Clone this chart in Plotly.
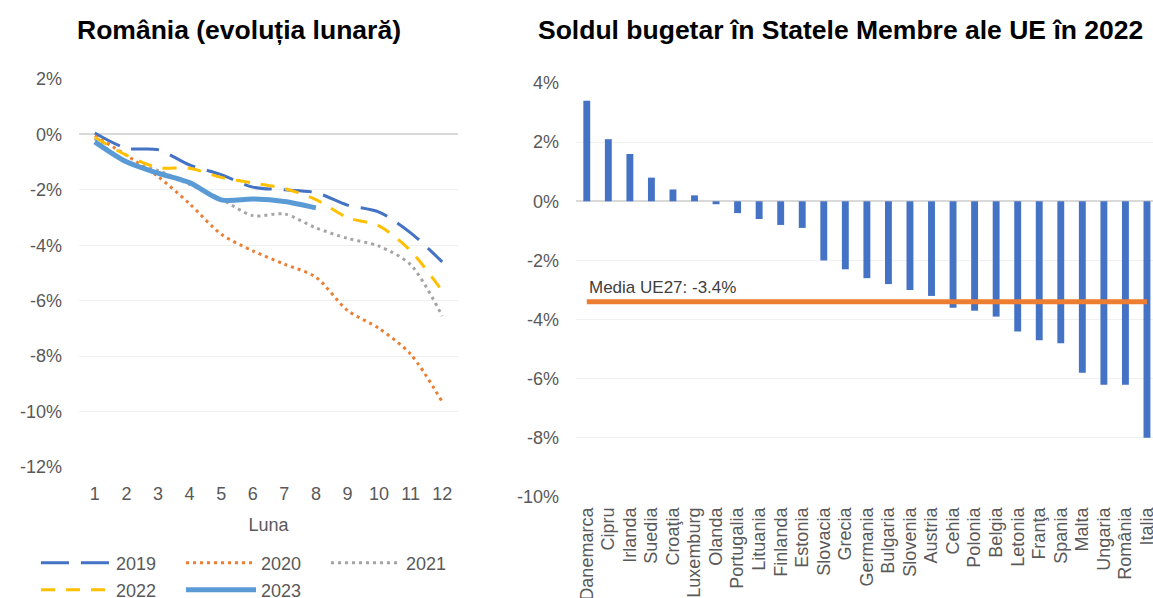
import plotly.graph_objects as go

# ---------------- data ----------------
months = list(range(1, 13))
y2019 = [0.05, -0.5, -0.55, -1.1, -1.45, -1.9, -2.0, -2.1, -2.55, -2.8, -3.55, -4.6]
y2020 = [-0.05, -0.75, -1.52, -2.5, -3.6, -4.2, -4.68, -5.15, -6.35, -7.0, -7.93, -9.65]
y2021 = [-0.15, -1.0, -1.3, -1.8, -2.33, -2.93, -2.87, -3.37, -3.75, -4.03, -4.7, -6.55]
y2022 = [-0.1, -0.75, -1.2, -1.22, -1.55, -1.75, -1.95, -2.35, -3.0, -3.3, -4.2, -5.65]
y2023 = [-0.27, -0.99, -1.4, -1.74, -2.36, -2.33, -2.42, -2.65]

left_yticks = [2, 0, -2, -4, -6, -8, -10, -12]
left_yticklabels = ["2%", "0%", "-2%", "-4%", "-6%", "-8%", "-10%", "-12%"]

countries = ["Danemarca", "Cipru", "Irlanda", "Suedia", "Croaţia", "Luxemburg", "Olanda",
             "Portugalia", "Lituania", "Finlanda", "Estonia", "Slovacia", "Grecia", "Germania",
             "Bulgaria", "Slovenia", "Austria", "Cehia", "Polonia", "Belgia", "Letonia", "Franţa",
             "Spania", "Malta", "Ungaria", "România", "Italia"]
balance = [3.4, 2.1, 1.6, 0.8, 0.4, 0.2, -0.1, -0.4, -0.6, -0.8, -0.9, -2.0, -2.3, -2.6,
           -2.8, -3.0, -3.2, -3.6, -3.7, -3.9, -4.4, -4.7, -4.8, -5.8, -6.2, -6.2, -8.0]
eu_avg = -3.4
right_yticks = [4, 2, 0, -2, -4, -6, -8, -10]
right_yticklabels = ["4%", "2%", "0%", "-2%", "-4%", "-6%", "-8%", "-10%"]

# ---------------- style ----------------
FONT = "Liberation Sans, Arial, sans-serif"
GRAY_TXT = "#595959"
W, H = 1153, 598

fig = go.Figure()

series = [
    ("2019", y2019, "#4472C4", "28px,12px", 3, "legend"),
    ("2020", y2020, "#ED7D31", "3px,4px", 3, "legend"),
    ("2021", y2021, "#A5A5A5", "3px,4px", 3, "legend"),
    ("2022", y2022, "#FFC000", "14px,11px", 3, "legend2"),
    ("2023", y2023, "#5B9BD5", "solid", 5, "legend2"),
]
for name, ys, col, dash, w, lg in series:
    fig.add_trace(go.Scatter(
        x=months[:len(ys)], y=ys, name=name, mode="lines",
        line=dict(color=col, width=w, dash=dash, shape="spline", smoothing=0.8),
        xaxis="x", yaxis="y", legend=lg, hoverinfo="skip"))

fig.add_trace(go.Bar(x=countries, y=balance, marker=dict(color="#4472C4", line=dict(width=0)),
                     xaxis="x2", yaxis="y2", showlegend=False))
fig.add_trace(go.Scatter(x=[countries[0], countries[-1]], y=[eu_avg, eu_avg], mode="lines",
                         line=dict(color="#ED7D31", width=5), xaxis="x2", yaxis="y2",
                         showlegend=False))

def px_x(p):
    return p / W

def px_y(p):
    return (H - p) / H

axis_common = dict(showline=False, ticks="", automargin=False,
                   tickfont=dict(family=FONT, size=18, color=GRAY_TXT))

fig.update_layout(
    width=W, height=H,
    margin=dict(l=0, r=0, t=0, b=0, autoexpand=False),
    paper_bgcolor="white", plot_bgcolor="white",
    font=dict(family=FONT, size=18, color=GRAY_TXT),
    bargap=0.68,
    xaxis=dict(domain=[px_x(79), px_x(458)], range=[0.5, 12.5], tickmode="array",
               tickvals=months, ticktext=[str(m) for m in months], showgrid=False,
               zeroline=False, ticklabelstandoff=14, anchor="y",
               title=dict(text="Luna", font=dict(family=FONT, size=18, color=GRAY_TXT), standoff=15),
               **axis_common),
    yaxis=dict(domain=[px_y(467), px_y(79)], range=[-12, 2], tickmode="array",
               tickvals=left_yticks, ticktext=left_yticklabels, showgrid=True,
               gridcolor="#F0F0F0", gridwidth=1, anchor="x", ticklabelstandoff=16,
               zeroline=True, zerolinecolor="#D9D9D9", zerolinewidth=2,
               **axis_common),
    xaxis2=dict(domain=[px_x(576), 1.0], range=[-0.5, 26.28], type="category",
                tickmode="array", tickvals=countries, ticktext=countries,
                tickangle=-90, showgrid=False, zeroline=False, anchor="y2",
                ticklabelstandoff=6, **axis_common),
    yaxis2=dict(domain=[px_y(497), px_y(83)], range=[-10, 4], tickmode="array",
                tickvals=right_yticks, ticktext=right_yticklabels, showgrid=True,
                gridcolor="#F0F0F0", gridwidth=1, anchor="x2", ticklabelstandoff=16,
                zeroline=True, zerolinecolor="#D9D9D9", zerolinewidth=2,
                **axis_common),
    legend=dict(orientation="h", x=px_x(36), xanchor="left", y=px_y(563), yanchor="middle",
                entrywidth=60, entrywidthmode="pixels", itemwidth=70,
                font=dict(family=FONT, size=18, color=GRAY_TXT), bgcolor="rgba(0,0,0,0)",
                tracegroupgap=0),
    legend2=dict(orientation="h", x=px_x(36), xanchor="left", y=px_y(590), yanchor="middle",
                 entrywidth=60, entrywidthmode="pixels", itemwidth=70,
                 font=dict(family=FONT, size=18, color=GRAY_TXT), bgcolor="rgba(0,0,0,0)",
                 tracegroupgap=0),
    showlegend=True,
)

fig.add_annotation(text="<b>România (evoluția lunară)</b>", xref="paper", yref="paper",
                   x=px_x(238.5), y=px_y(30), xanchor="center", yanchor="middle",
                   showarrow=False, font=dict(family=FONT, size=26.5, color="#000000"))
fig.add_annotation(text="<b>Soldul bugetar în Statele Membre ale UE în 2022</b>", xref="paper",
                   yref="paper", x=px_x(840), y=px_y(30), xanchor="center", yanchor="middle",
                   showarrow=False, font=dict(family=FONT, size=26.5, color="#000000"))
fig.add_annotation(text="Media UE27: -3.4%", xref="x2", yref="y2", x=countries[0], y=eu_avg,
                   xanchor="left", yanchor="middle", xshift=0, yshift=14, showarrow=False,
                   font=dict(family=FONT, size=17, color="#404040"))

fig.write_html("out.html", config={"displayModeBar": False},
               post_script="document.body.style.margin='0';document.body.style.overflow='hidden';")
